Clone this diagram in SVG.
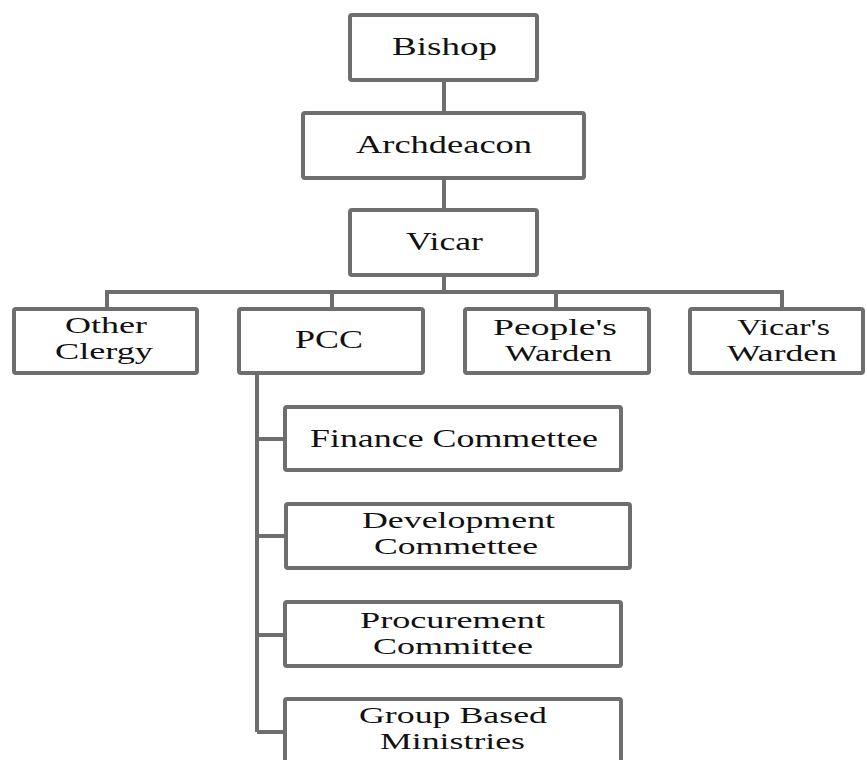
<svg xmlns="http://www.w3.org/2000/svg" width="867" height="760" viewBox="0 0 867 760">
<style>
.box{fill:#fff;stroke:#6e6e6e;stroke-width:4}
.c{fill:none;stroke:#6e6e6e;stroke-width:4;stroke-linejoin:miter}
text{font-family:"Liberation Serif","Times New Roman",serif;font-size:26px;fill:#111;text-anchor:middle}
text.t2{font-size:23px}
</style>
<rect width="867" height="760" fill="#fff"/>
<g id="connectors">
<path class="c" d="M444 80V113M444 178V210M444 275V292M107 309V292H782V309M332 292V309M556 292V309"/>
<path class="c" d="M257 373V732M257 439H285M257 536H286M257 635H285M257 732H285"/>
</g>
<g id="bishop"><rect class="box" x="350" y="15" width="187" height="65" rx="2"/><text x="444.5" y="55" textLength="105" lengthAdjust="spacingAndGlyphs">Bishop</text></g>
<g id="archdeacon"><rect class="box" x="303" y="113" width="281" height="65" rx="2"/><text x="444" y="153" textLength="176" lengthAdjust="spacingAndGlyphs">Archdeacon</text></g>
<g id="vicar"><rect class="box" x="350" y="210" width="187" height="65" rx="2"/><text x="444.5" y="250" textLength="77" lengthAdjust="spacingAndGlyphs">Vicar</text></g>
<g id="other-clergy"><rect class="box" x="14" y="309" width="183" height="64" rx="2"/><text class="t2" x="106" y="333" textLength="82" lengthAdjust="spacingAndGlyphs">Other</text><text class="t2" x="104" y="359" textLength="98" lengthAdjust="spacingAndGlyphs">Clergy</text></g>
<g id="pcc"><rect class="box" x="239" y="309" width="184" height="64" rx="2"/><text x="329" y="348" textLength="68" lengthAdjust="spacingAndGlyphs">PCC</text></g>
<g id="peoples-warden"><rect class="box" x="465" y="309" width="184" height="64" rx="2"/><text class="t2" x="555" y="335" textLength="124" lengthAdjust="spacingAndGlyphs">People's</text><text class="t2" x="558.5" y="361" textLength="107" lengthAdjust="spacingAndGlyphs">Warden</text></g>
<g id="vicars-warden"><rect class="box" x="690" y="309" width="173" height="64" rx="2"/><text class="t2" x="783.5" y="335" textLength="93" lengthAdjust="spacingAndGlyphs">Vicar's</text><text class="t2" x="782" y="361" textLength="110" lengthAdjust="spacingAndGlyphs">Warden</text></g>
<g id="finance"><rect class="box" x="285" y="407" width="336" height="63" rx="2"/><text x="454" y="447" textLength="288" lengthAdjust="spacingAndGlyphs">Finance Commettee</text></g>
<g id="development"><rect class="box" x="286" y="504" width="344" height="64" rx="2"/><text class="t2" x="458.5" y="528" textLength="193" lengthAdjust="spacingAndGlyphs">Development</text><text class="t2" x="456" y="554" textLength="164" lengthAdjust="spacingAndGlyphs">Commettee</text></g>
<g id="procurement"><rect class="box" x="285" y="602" width="336" height="64" rx="2"/><text class="t2" x="452.5" y="628" textLength="185" lengthAdjust="spacingAndGlyphs">Procurement</text><text class="t2" x="453" y="654" textLength="160" lengthAdjust="spacingAndGlyphs">Committee</text></g>
<g id="group-based"><rect class="box" x="285" y="699" width="336" height="70" rx="2"/><text class="t2" x="453" y="723" textLength="188" lengthAdjust="spacingAndGlyphs">Group Based</text><text class="t2" x="452.5" y="749" textLength="145" lengthAdjust="spacingAndGlyphs">Ministries</text></g>
</svg>
